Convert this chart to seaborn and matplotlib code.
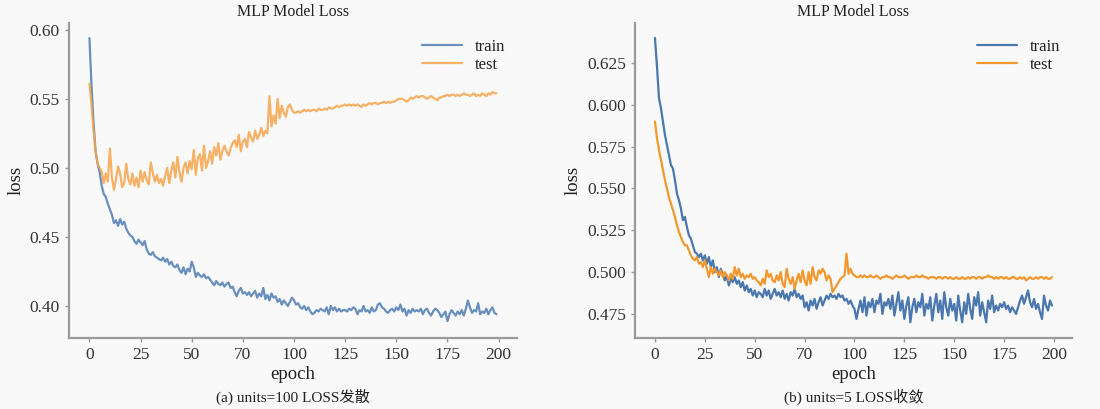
import matplotlib
matplotlib.use("Agg")
import matplotlib.pyplot as plt
import numpy as np
import pandas as pd
import seaborn as sns

# ---- data (loss per epoch, 200 epochs) ----
epochs = np.arange(200)

train_units100 = [
    0.594, 0.560, 0.533, 0.512, 0.503, 0.497, 0.487, 0.481, 0.479, 0.474,
    0.470, 0.466, 0.460, 0.462, 0.458, 0.463, 0.459, 0.461, 0.456, 0.453,
    0.451, 0.450, 0.447, 0.445, 0.448, 0.446, 0.444, 0.447, 0.441, 0.438,
    0.437, 0.439, 0.436, 0.435, 0.434, 0.433, 0.435, 0.432, 0.434, 0.430,
    0.432, 0.429, 0.428, 0.430, 0.426, 0.424, 0.428, 0.423, 0.427, 0.425,
    0.432, 0.428, 0.421, 0.424, 0.422, 0.421, 0.423, 0.420, 0.421, 0.419,
    0.417, 0.415, 0.418, 0.416, 0.415, 0.417, 0.414, 0.416, 0.417, 0.413,
    0.414, 0.410, 0.407, 0.411, 0.413, 0.409, 0.410, 0.408, 0.410, 0.407,
    0.409, 0.411, 0.406, 0.409, 0.407, 0.413, 0.405, 0.408, 0.404, 0.409,
    0.406, 0.407, 0.403, 0.405, 0.401, 0.404, 0.402, 0.400, 0.403, 0.406,
    0.404, 0.401, 0.402, 0.399, 0.398, 0.400, 0.397, 0.399, 0.396, 0.394,
    0.395, 0.397, 0.396, 0.398, 0.397, 0.396, 0.399, 0.394, 0.400, 0.397,
    0.399, 0.396, 0.398, 0.396, 0.397, 0.397, 0.396, 0.398, 0.397, 0.399,
    0.398, 0.394, 0.397, 0.396, 0.400, 0.396, 0.397, 0.395, 0.399, 0.396,
    0.397, 0.401, 0.402, 0.399, 0.398, 0.396, 0.395, 0.397, 0.398, 0.396,
    0.399, 0.397, 0.401, 0.396, 0.398, 0.393, 0.397, 0.395, 0.398, 0.396,
    0.397, 0.396, 0.398, 0.394, 0.397, 0.398, 0.395, 0.393, 0.396, 0.398,
    0.397, 0.395, 0.392, 0.394, 0.396, 0.389, 0.394, 0.397, 0.395, 0.393,
    0.396, 0.394, 0.397, 0.393, 0.398, 0.404, 0.399, 0.395, 0.397, 0.396,
    0.402, 0.394, 0.396, 0.395, 0.398, 0.394, 0.397, 0.399, 0.395, 0.394,
]
test_units100 = [
    0.561, 0.546, 0.527, 0.512, 0.503, 0.500, 0.497, 0.489, 0.496, 0.490,
    0.514, 0.493, 0.484, 0.492, 0.501, 0.496, 0.486, 0.489, 0.503, 0.492,
    0.488, 0.496, 0.487, 0.493, 0.486, 0.498, 0.490, 0.497, 0.491, 0.488,
    0.504, 0.496, 0.490, 0.495, 0.489, 0.492, 0.487, 0.494, 0.500, 0.489,
    0.498, 0.504, 0.493, 0.508, 0.497, 0.490, 0.500, 0.504, 0.496, 0.505,
    0.499, 0.513, 0.495, 0.507, 0.510, 0.498, 0.516, 0.500, 0.505, 0.512,
    0.503, 0.515, 0.509, 0.518, 0.506, 0.512, 0.516, 0.512, 0.509, 0.514,
    0.518, 0.520, 0.515, 0.524, 0.512, 0.519, 0.521, 0.515, 0.526, 0.522,
    0.519, 0.527, 0.521, 0.524, 0.529, 0.523, 0.527, 0.525, 0.552, 0.530,
    0.538, 0.532, 0.550, 0.536, 0.545, 0.540, 0.537, 0.544, 0.546, 0.542,
    0.540, 0.540, 0.541, 0.540, 0.541, 0.542, 0.541, 0.542, 0.541, 0.542,
    0.542, 0.541, 0.543, 0.542, 0.542, 0.543, 0.542, 0.544, 0.543, 0.543,
    0.544, 0.545, 0.544, 0.545, 0.545, 0.546, 0.545, 0.546, 0.545, 0.546,
    0.545, 0.546, 0.545, 0.544, 0.546, 0.545, 0.546, 0.547, 0.546, 0.547,
    0.547, 0.546, 0.547, 0.547, 0.548, 0.547, 0.548, 0.547, 0.548, 0.548,
    0.549, 0.550, 0.550, 0.550, 0.549, 0.548, 0.549, 0.551, 0.550, 0.551,
    0.552, 0.551, 0.552, 0.552, 0.551, 0.550, 0.551, 0.552, 0.551, 0.550,
    0.549, 0.551, 0.551, 0.552, 0.552, 0.553, 0.552, 0.553, 0.553, 0.552,
    0.553, 0.552, 0.553, 0.554, 0.553, 0.553, 0.552, 0.553, 0.554, 0.552,
    0.553, 0.552, 0.554, 0.553, 0.552, 0.554, 0.553, 0.555, 0.554, 0.554,
]
train_units5 = [
    0.640, 0.623, 0.604, 0.598, 0.590, 0.582, 0.576, 0.570, 0.564, 0.562,
    0.555, 0.547, 0.543, 0.538, 0.531, 0.533, 0.527, 0.522, 0.520, 0.516,
    0.512, 0.511, 0.509, 0.511, 0.507, 0.510, 0.505, 0.509, 0.503, 0.507,
    0.500, 0.503, 0.497, 0.502, 0.499, 0.495, 0.498, 0.492, 0.496, 0.494,
    0.497, 0.493, 0.495, 0.491, 0.494, 0.489, 0.492, 0.488, 0.490, 0.486,
    0.489, 0.485, 0.488, 0.487, 0.485, 0.490, 0.486, 0.489, 0.484, 0.487,
    0.490, 0.486, 0.488, 0.485, 0.489, 0.484, 0.487, 0.483, 0.488, 0.486,
    0.490, 0.485, 0.487, 0.484, 0.486, 0.479, 0.482, 0.477, 0.483, 0.480,
    0.484, 0.478, 0.482, 0.485, 0.480, 0.483, 0.486, 0.484, 0.487, 0.485,
    0.486, 0.484, 0.487, 0.485, 0.486, 0.483, 0.484, 0.481, 0.483, 0.480,
    0.478, 0.472, 0.478, 0.483, 0.476, 0.485, 0.474, 0.482, 0.479, 0.484,
    0.476, 0.483, 0.481, 0.487, 0.475, 0.482, 0.480, 0.484, 0.478, 0.486,
    0.474, 0.481, 0.488, 0.477, 0.483, 0.472, 0.480, 0.485, 0.470, 0.479,
    0.484, 0.476, 0.482, 0.479, 0.487, 0.474, 0.481, 0.478, 0.485, 0.471,
    0.480, 0.487, 0.476, 0.483, 0.472, 0.488, 0.479, 0.474, 0.484, 0.477,
    0.481, 0.471, 0.486, 0.477, 0.470, 0.482, 0.475, 0.487, 0.478, 0.472,
    0.485, 0.480, 0.488, 0.474, 0.482, 0.476, 0.470, 0.483, 0.478, 0.486,
    0.476, 0.480, 0.477, 0.481, 0.479, 0.482, 0.478, 0.480, 0.476, 0.479,
    0.477, 0.475, 0.479, 0.483, 0.486, 0.481, 0.485, 0.489, 0.482, 0.479,
    0.484, 0.478, 0.481, 0.476, 0.472, 0.486, 0.480, 0.477, 0.483, 0.480,
]
test_units5 = [
    0.590, 0.580, 0.573, 0.567, 0.561, 0.555, 0.550, 0.545, 0.541, 0.537,
    0.533, 0.528, 0.524, 0.521, 0.518, 0.516, 0.516, 0.513, 0.510, 0.508,
    0.507, 0.509, 0.505, 0.506, 0.503, 0.507, 0.502, 0.497, 0.503, 0.499,
    0.502, 0.500, 0.498, 0.501, 0.497, 0.500, 0.498, 0.495, 0.499, 0.496,
    0.503, 0.498, 0.502, 0.497, 0.499, 0.496, 0.498, 0.497, 0.499, 0.496,
    0.497, 0.495, 0.494, 0.492, 0.496, 0.493, 0.501, 0.497, 0.499, 0.495,
    0.494, 0.498, 0.495, 0.500, 0.493, 0.491, 0.502, 0.496, 0.493, 0.497,
    0.490, 0.495, 0.499, 0.494, 0.501, 0.495, 0.492, 0.500, 0.493, 0.503,
    0.497, 0.495, 0.501, 0.499, 0.502, 0.500, 0.495, 0.498, 0.496, 0.488,
    0.490, 0.492, 0.494, 0.496, 0.497, 0.498, 0.511, 0.499, 0.502, 0.499,
    0.498, 0.497, 0.497, 0.498, 0.497, 0.498, 0.497, 0.497, 0.498, 0.497,
    0.497, 0.498, 0.497, 0.496, 0.497, 0.497, 0.498, 0.497, 0.497, 0.496,
    0.497, 0.498, 0.497, 0.497, 0.497, 0.498, 0.497, 0.496, 0.497, 0.497,
    0.497, 0.498, 0.497, 0.497, 0.498, 0.497, 0.497, 0.496, 0.497, 0.497,
    0.497, 0.496, 0.497, 0.497, 0.496, 0.497, 0.497, 0.496, 0.497, 0.496,
    0.496, 0.497, 0.496, 0.496, 0.497, 0.496, 0.496, 0.497, 0.496, 0.497,
    0.497, 0.496, 0.497, 0.497, 0.496, 0.497, 0.497, 0.498, 0.497, 0.497,
    0.496, 0.497, 0.496, 0.497, 0.497, 0.496, 0.497, 0.496, 0.496, 0.497,
    0.497, 0.496, 0.496, 0.497, 0.496, 0.497, 0.495, 0.496, 0.497, 0.496,
    0.496, 0.497, 0.496, 0.497, 0.497, 0.496, 0.497, 0.496, 0.496, 0.497,
]

x_ticks = [0, 25, 50, 75, 100, 125, 150, 175, 200]
x_tick_labels = ["0", "25", "50", "70", "100", "125", "150", "175", "200"]
y_ticks_left = [0.40, 0.45, 0.50, 0.55, 0.60]
y_ticks_right = [0.475, 0.500, 0.525, 0.550, 0.575, 0.600, 0.625]
captions = ["(a) units=100 LOSS发散", "(b) units=5 LOSS收敛"]

BG = "#f9f9f9"
sns.set_theme(style="ticks", rc={"axes.facecolor": BG, "figure.facecolor": BG})
plt.rcParams["font.family"] = ["Liberation Serif", "Noto Sans CJK SC"]
plt.rcParams["axes.edgecolor"] = "#9a9a9a"
plt.rcParams["xtick.color"] = "#9a9a9a"
plt.rcParams["ytick.color"] = "#9a9a9a"


def _long_frame(train, test):
    return pd.DataFrame({
        "epoch": np.concatenate([epochs, epochs]),
        "loss": np.concatenate([train, test]),
        "series": ["train"] * len(train) + ["test"] * len(test),
    })


def draw_panel(ax, frame, palette, yticks, ylim, ytick_fmt, caption, alpha):
    sns.lineplot(data=frame, x="epoch", y="loss", hue="series", palette=palette,
                 linewidth=1.6, alpha=alpha, ax=ax)
    sns.despine(ax=ax)
    for side in ("left", "bottom"):
        ax.spines[side].set_linewidth(1.6)
    ax.set_xlim(-10, 209)
    ax.set_ylim(*ylim)
    ax.set_xticks(x_ticks)
    ax.set_xticklabels(x_tick_labels)
    ax.set_yticks(yticks)
    ax.set_yticklabels([ytick_fmt.format(v) for v in yticks])
    ax.tick_params(labelsize=12.5, labelcolor="#333333", length=3, width=1)
    ax.set_title("MLP Model Loss", fontsize=11.5, color="#222222", pad=5)
    ax.set_xlabel("epoch", fontsize=13.5, color="#222222", labelpad=2)
    ax.set_ylabel("loss", fontsize=13.5, color="#222222", labelpad=4)
    leg = ax.legend(loc="upper right", frameon=False, fontsize=12,
                    handlelength=2.4, labelspacing=0.1, borderaxespad=0.3,
                    bbox_to_anchor=(1.0, 0.985))
    for txt in leg.get_texts():
        txt.set_color("#222222")
    ax.text(0.5, -0.187, caption, transform=ax.transAxes, ha="center",
            va="center", fontsize=11, color="#222222")


fig = plt.figure(figsize=(11, 4.09), dpi=100)
ax_left = fig.add_axes([0.0627, 0.1736, 0.4073, 0.7704])
ax_right = fig.add_axes([0.5773, 0.1736, 0.3972, 0.7704])

draw_panel(ax_left, _long_frame(train_units100, test_units100),
           {"train": "#4f7db3", "test": "#f6a54c"},
           y_ticks_left, (0.3768, 0.605), "{:.2f}", captions[0], 0.85)
draw_panel(ax_right, _long_frame(train_units5, test_units5),
           {"train": "#4a78ae", "test": "#f2982f"},
           y_ticks_right, (0.4606, 0.649), "{:.3f}", captions[1], 1.0)

fig.savefig("out.png", dpi=100, facecolor=BG)
